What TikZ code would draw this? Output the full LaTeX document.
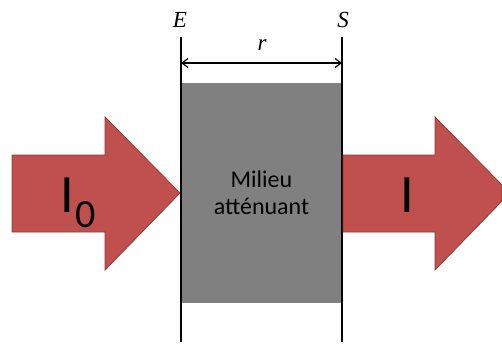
\documentclass[tikz,border=0pt]{standalone}
\usepackage{fontspec}
\setmainfont{Carlito}
\newfontfamily\varfont{Liberation Serif}
\usetikzlibrary{arrows.meta}
\definecolor{arrowred}{HTML}{C0504D}
\definecolor{arrowedge}{HTML}{8C3836}
\definecolor{medium}{HTML}{808080}
\tikzset{
  bigarrow/.style={fill=arrowred, draw=arrowedge, line width=0.8pt, line join=miter},
  wall/.style={line width=2pt, black},
  lbl/.style={inner sep=0pt},
  var/.style={lbl, anchor=base, font=\varfont\itshape\fontsize{23}{23}\selectfont},
}
\begin{document}
\begin{tikzpicture}[x=1pt,y=-1pt]
\useasboundingbox (0,0) rectangle (502,345);
% medium
\fill[medium] (181,83) rectangle (342,303);
\node[lbl, align=center, font=\fontsize{24}{27}\selectfont] (med) at (261.5,193) {Milieu\\att\'enuant};
% walls
\coordinate (Etop) at (181,37);
\coordinate (Ebot) at (181,342);
\coordinate (Stop) at (342,37);
\coordinate (Sbot) at (342,342);
\draw[wall] (Etop) -- (Ebot);
\draw[wall] (Stop) -- (Sbot);
% arrows
\draw[bigarrow] (12,155) -- (105,155) -- (105,117) -- (180,193) -- (105,270) -- (105,232) -- (12,232) -- cycle;
\draw[bigarrow] (343,155) -- (435,155) -- (435,117) -- (502,185) -- (502,201) -- (435,270) -- (435,232) -- (343,232) -- cycle;
% labels
\node[lbl, anchor=base west, font=\fontsize{54}{54}\selectfont] (Izero) at (60,212) {I};
\node[lbl, anchor=base west, font=\fontsize{40}{40}\selectfont] (sub) at (75,227) {0};
\node[lbl, anchor=base west, font=\fontsize{54}{54}\selectfont] (Iout) at (400,212) {I};
% dimension
\coordinate (rl) at (181,63);
\coordinate (rr) at (342,63);
\draw[line width=1.2pt, {Straight Barb[length=6pt,width=9pt]}-{Straight Barb[length=6pt,width=9pt]}] (rl) -- (rr);
\node[var] (r) at (262,51) {r};
\node[var] (E) at (180,28) {E};
\node[var] (S) at (343,28) {S};
\end{tikzpicture}
\end{document}
